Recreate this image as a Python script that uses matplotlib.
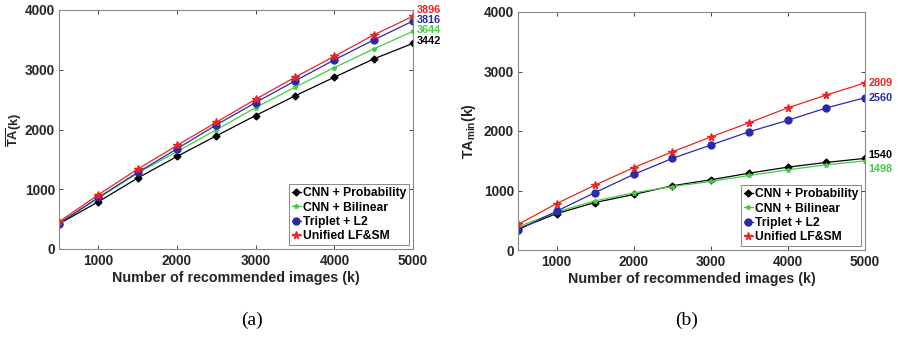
import matplotlib
matplotlib.use("Agg")
import matplotlib.pyplot as plt
import numpy as np

plt.rcParams['font.family'] = ['Liberation Sans', 'DejaVu Sans']
plt.rcParams['font.weight'] = 'bold'
plt.rcParams['mathtext.fontset'] = 'custom'
plt.rcParams['mathtext.rm'] = 'Liberation Sans:bold'
plt.rcParams['mathtext.bf'] = 'Liberation Sans:bold'
plt.rcParams['mathtext.it'] = 'Liberation Sans:bold'

k_values = [500, 1000, 1500, 2000, 2500, 3000, 3500, 4000, 4500, 5000]
series_names = ["CNN + Probability", "CNN + Bilinear", "Triplet + L2", "Unified LF&SM"]

# (a) mean TA
ta_mean_cnn_prob = [420, 791, 1187, 1549, 1894, 2234, 2563, 2875, 3181, 3442]
ta_mean_cnn_bil = [435, 850, 1270, 1632, 1994, 2368, 2708, 3036, 3348, 3644]
ta_mean_triplet = [423, 863, 1281, 1677, 2078, 2451, 2813, 3164, 3499, 3816]
ta_mean_unified = [455, 908, 1337, 1733, 2122, 2507, 2875, 3226, 3582, 3896]

# (b) min TA
ta_min_cnn_prob = [355, 612, 798, 933, 1079, 1180, 1292, 1393, 1472, 1540]
ta_min_cnn_bil = [385, 640, 826, 960, 1067, 1152, 1253, 1348, 1433, 1498]
ta_min_triplet = [337, 652, 966, 1270, 1539, 1764, 1989, 2180, 2388, 2560]
ta_min_unified = [430, 780, 1092, 1385, 1650, 1900, 2140, 2390, 2605, 2809]

colors = ['black', '#44cc44', '#2a2aaa', '#ee2222']
markers = ['D', '*', 'o', '*']
msizes = [3.5, 3.5, 5, 5.5]

fig = plt.figure(figsize=(8.98, 3.37), dpi=100)
ax1 = fig.add_axes([59/898, 1-249/337, (413-59)/898, (249-10)/337])
ax2 = fig.add_axes([518/898, 1-250/337, (865-518)/898, (250-12)/337])

def draw(ax, data, ylabel, label_offsets, ylabel_x, ylabel_size):
    for i, (vals, name) in enumerate(zip(data, series_names)):
        ax.plot(k_values, vals, color=colors[i], marker=markers[i], markersize=msizes[i],
                linewidth=0.9, label=name)
        ax.text(k_values[-1] + 50, vals[-1] + label_offsets[i], str(vals[-1]),
                color=colors[i], fontsize=7.8, fontweight='bold', va='center', ha='left')
    ax.set_xlim(500, 5000)
    ax.set_ylim(0, 4000)
    ax.set_xticks([1000, 2000, 3000, 4000, 5000])
    ax.set_yticks([0, 1000, 2000, 3000, 4000])
    ax.tick_params(direction='in', top=True, right=True, labelsize=9.8, colors='#262626',
                   length=3, width=0.6)
    ax.tick_params(axis='y', pad=3)
    for lbl in ax.get_xticklabels() + ax.get_yticklabels():
        lbl.set_fontweight('bold')
    for sp in ax.spines.values():
        sp.set_color('#888888')
        sp.set_linewidth(0.8)
    ax.set_xlabel("Number of recommended images (k)", fontsize=10.3, fontweight='bold',
                  color='#262626', labelpad=2)
    ax.set_ylabel(ylabel, fontsize=ylabel_size, fontweight='bold', color='#262626')
    ax.yaxis.set_label_coords(ylabel_x, 0.5)
    leg = ax.legend(loc='lower right', handlelength=0.7, handletextpad=0.2,
                    borderpad=0.25, labelspacing=0.2, fancybox=False, framealpha=1,
                    borderaxespad=0.3, prop={'weight': 'bold', 'size': 8.7})
    leg.get_frame().set_edgecolor('#888888')
    leg.get_frame().set_linewidth(0.7)

draw(ax1, [ta_mean_cnn_prob, ta_mean_cnn_bil, ta_mean_triplet, ta_mean_unified],
     r'$\overline{\mathrm{TA}}$(k)', [35, 25, 10, 100], -0.098, 9.3)
draw(ax2, [ta_min_cnn_prob, ta_min_cnn_bil, ta_min_triplet, ta_min_unified],
     r'TA$_{\mathrm{min}}$(k)', [50, -135, 0, 0], -0.115, 10.3)

fig.text(252/898, 1-320/337, "(a)", fontsize=14, fontfamily='Liberation Serif',
         fontweight='normal', ha='center', va='center')
fig.text(687/898, 1-320/337, "(b)", fontsize=14, fontfamily='Liberation Serif',
         fontweight='normal', ha='center', va='center')

fig.savefig("out.png", dpi=100)
